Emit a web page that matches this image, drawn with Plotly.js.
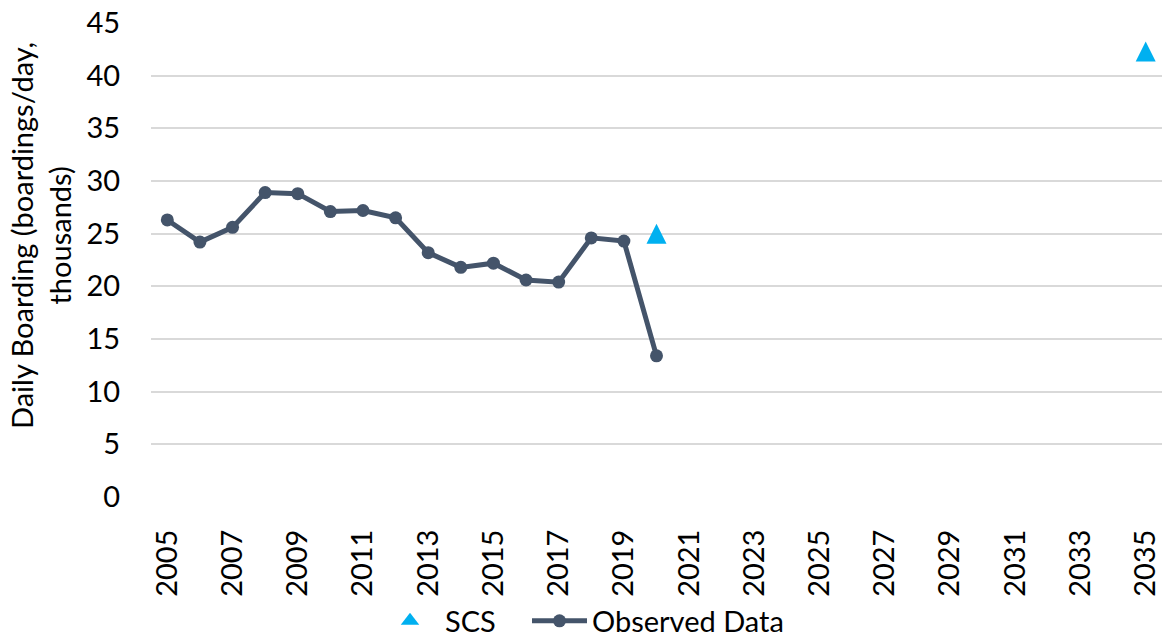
<!DOCTYPE html>
<html>
<head>
<meta charset="utf-8">
<script src="https://cdn.plot.ly/plotly-3.0.1.min.js"></script>
<style>html,body{margin:0;padding:0;background:#fff;}#chart{width:1162px;height:642px;}</style>
</head>
<body>
<div id="chart"></div>
<script>
var observedYears = [2005, 2006, 2007, 2008, 2009, 2010, 2011, 2012, 2013, 2014, 2015, 2016, 2017, 2018, 2019, 2020];
var observedValues = [26.3, 24.2, 25.6, 28.9, 28.8, 27.1, 27.2, 26.5, 23.2, 21.8, 22.2, 20.6, 20.4, 24.6, 24.3, 13.4];
var scsYears = [2020, 2035];
var scsValues = [25.0, 42.3];
var xTickVals = [2005, 2007, 2009, 2011, 2013, 2015, 2017, 2019, 2021, 2023, 2025, 2027, 2029, 2031, 2033, 2035];
var yTickVals = [0, 5, 10, 15, 20, 25, 30, 35, 40, 45];
var yTitle = 'Daily Boarding (boardings/day,<br>thousands)';

var FONT = 'Lato, "Noto Sans", Arial, sans-serif';
var SCS_COLOR = '#00B0F0';
var OBS_COLOR = '#44546A';

var traces = [
  {
    // SCS points: upright triangle centred on each value
    x: scsYears, y: scsValues, name: 'SCS', type: 'scatter', mode: 'markers',
    marker: {symbol: 'arrow-down', angle: 180, size: 20, standoff: 10, color: SCS_COLOR, line: {width: 0}},
    cliponaxis: false, showlegend: false, legendgroup: 'scs'
  },
  {
    // legend entry for SCS
    x: [null], y: [null], name: 'SCS', type: 'scatter', mode: 'markers',
    marker: {symbol: 'triangle-up', size: 16, color: SCS_COLOR, line: {width: 0}},
    showlegend: true, legend: 'legend', legendgroup: 'scs'
  },
  {
    x: observedYears, y: observedValues, name: 'Observed Data', type: 'scatter', mode: 'lines+markers',
    line: {color: OBS_COLOR, width: 5},
    marker: {symbol: 'circle', size: 13, color: OBS_COLOR},
    cliponaxis: false, legend: 'legend2'
  }
];

var legendFont = {family: FONT, size: 29, color: '#000000'};
var legendY = 21 / 642;

var layout = {
  width: 1162, height: 642,
  margin: {l: 151, r: 0, t: 23, b: 145, pad: 0},
  paper_bgcolor: '#ffffff', plot_bgcolor: '#ffffff',
  font: {family: FONT, size: 28, color: '#000000'},
  showlegend: true,
  legend: {
    orientation: 'h', x: 375 / 1162, xanchor: 'left', xref: 'container',
    y: legendY, yref: 'container', yanchor: 'middle',
    font: legendFont, itemwidth: 60, bgcolor: 'rgba(0,0,0,0)'
  },
  legend2: {
    orientation: 'h', x: 527 / 1162, xanchor: 'left', xref: 'container',
    y: legendY, yref: 'container', yanchor: 'middle',
    font: legendFont, itemwidth: 55, bgcolor: 'rgba(0,0,0,0)'
  },
  xaxis: {
    range: [2004.5, 2035.5], tickmode: 'array', tickvals: xTickVals,
    ticktext: xTickVals.map(String),
    tickangle: -90, showgrid: false, zeroline: false, showline: false,
    ticks: 'outside', ticklen: 20, tickcolor: 'rgba(0,0,0,0)',
    tickfont: {family: FONT, size: 29, color: '#000000'}, fixedrange: true
  },
  yaxis: {
    range: [0, 45], tickmode: 'array', tickvals: yTickVals,
    showgrid: true, gridcolor: '#D9D9D9', gridwidth: 2,
    zeroline: false, showline: false,
    ticks: 'outside', ticklen: 24, tickcolor: 'rgba(0,0,0,0)',
    tickfont: {family: FONT, size: 29, color: '#000000'}, fixedrange: true
  },
  annotations: [{
    text: yTitle, xref: 'paper', yref: 'paper',
    x: (41 - 151) / 1011, y: (497 - 236) / 474,
    xanchor: 'center', yanchor: 'middle', textangle: -90, showarrow: false,
    font: {family: FONT, size: 29, color: '#000000'}, align: 'center'
  }]
};

Plotly.newPlot('chart', traces, layout, {staticPlot: true, displayModeBar: false});
</script>
</body>
</html>
